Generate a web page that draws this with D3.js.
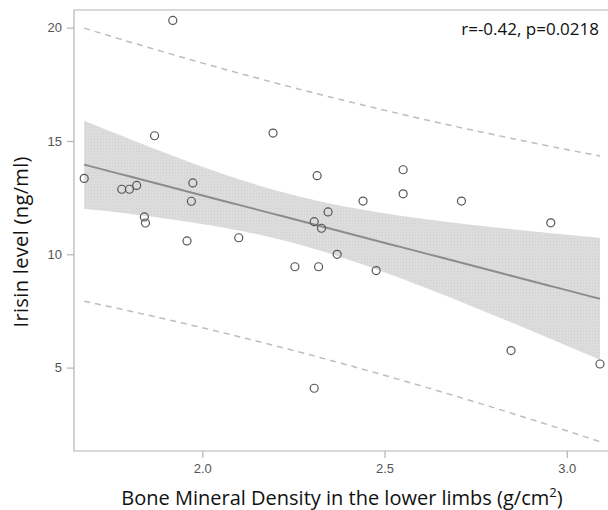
<!DOCTYPE html>
<html>
<head>
<meta charset="utf-8">
<script src="https://cdn.jsdelivr.net/npm/d3@7"></script>
<style>
  body { margin: 0; background: #fff; }
  svg { display: block; }
</style>
</head>
<body>
<div id="chart"></div>
<script>
// bone mineral density (g/cm2) of each subject
var bmd = [1.676, 1.779, 1.800, 1.820, 1.841, 1.844, 1.869, 1.919, 1.958, 1.974,
  1.970, 2.100, 2.194, 2.254, 2.307, 2.315, 2.319, 2.327, 2.345, 2.370,
  2.307, 2.441, 2.477, 2.551, 2.551, 2.711, 2.847, 2.956, 3.091];
// irisin level (ng/ml), same order
var irisin = [13.35, 12.87, 12.87, 13.04, 11.65, 11.38, 15.23, 20.32, 10.59, 13.15,
  12.34, 10.73, 15.35, 9.45, 11.44, 13.47, 9.45, 11.15, 11.87, 10.0,
  4.09, 12.35, 9.28, 13.73, 12.67, 12.35, 5.75, 11.39, 5.16];

var xTicks = [2.0, 2.5, 3.0];
var yTicks = [5, 10, 15, 20];
var statText = "r=-0.42, p=0.0218";
var xTitle = "Bone Mineral Density in the lower limbs (g/cm";
var yTitle = "Irisin level (ng/ml)";

var W = 608, H = 510;
var m = { left: 74, top: 10, right: 608, bottom: 451 };

var svg = d3.select("#chart").append("svg")
  .attr("width", W)
  .attr("height", H);

var x = d3.scaleLinear().domain([1.648, 3.113]).range([m.left, m.right]);
var y = d3.scaleLinear().domain([1.32, 20.78]).range([m.bottom, m.top]);

// least squares fit, 95% mean band and prediction band
var n = bmd.length;
var mx = d3.mean(bmd), my = d3.mean(irisin);
var sxx = d3.sum(bmd, function (d) { return (d - mx) * (d - mx) });
var sxy = d3.sum(bmd, function (d, i) { return (d - mx) * (irisin[i] - my) });
var slope = sxy / sxx;
var icpt = my - slope * mx;
var sse = d3.sum(bmd, function (d, i) { var e = irisin[i] - (icpt + slope * d); return e * e });
var s = Math.sqrt(sse / (n - 2));
var t = 2.052; // t(0.975, 27)

var xs = d3.range(0, 61).map(function (i) {
  return d3.min(bmd) + i * (d3.max(bmd) - d3.min(bmd)) / 60;
});
var band = xs.map(function (v) {
  var fit = icpt + slope * v;
  var se = s * Math.sqrt(1 / n + (v - mx) * (v - mx) / sxx);
  var sp = s * Math.sqrt(1 + 1 / n + (v - mx) * (v - mx) / sxx);
  return { x: v, fit: fit, lo: fit - t * se, hi: fit + t * se, plo: fit - t * sp, phi: fit + t * sp };
});

// stippled grey fill like the original band
var defs = svg.append("defs");
var pat = defs.append("pattern")
  .attr("id", "stipple")
  .attr("width", 3)
  .attr("height", 3)
  .attr("patternUnits", "userSpaceOnUse");
pat.append("rect").attr("width", 3).attr("height", 3).attr("fill", "#dcdcdc");
pat.append("rect").attr("x", 1).attr("y", 1).attr("width", 1).attr("height", 1).attr("fill", "#d0d0d0");

svg.append("path")
  .datum(band)
  .attr("d", d3.area()
    .x(function (d) { return x(d.x) })
    .y0(function (d) { return y(d.lo) })
    .y1(function (d) { return y(d.hi) }))
  .attr("fill", "url(#stipple)");

svg.append("path")
  .datum(band)
  .attr("d", d3.line()
    .x(function (d) { return x(d.x) })
    .y(function (d) { return y(d.fit) }))
  .attr("fill", "none")
  .attr("stroke", "#8c8c8c")
  .attr("stroke-width", 2);

["plo", "phi"].forEach(function (k) {
  svg.append("path")
    .datum(band)
    .attr("d", d3.line()
      .x(function (d) { return x(d.x) })
      .y(function (d) { return y(d[k]) }))
    .attr("fill", "none")
    .attr("stroke", "#bdbdbd")
    .attr("stroke-width", 1.5)
    .attr("stroke-dasharray", "6,5");
});

// frame
svg.append("path")
  .attr("d", "M" + m.right + "," + m.top + "H" + m.left + "V" + m.bottom + "H" + m.right)
  .attr("fill", "none")
  .attr("stroke", "#b4b4b4")
  .attr("stroke-width", 1.2);

// axes
var gx = svg.append("g")
  .attr("transform", "translate(0," + m.bottom + ")")
  .call(d3.axisBottom(x).tickValues(xTicks).tickFormat(d3.format(".1f")).tickSize(7).tickPadding(6));
var gy = svg.append("g")
  .attr("transform", "translate(" + m.left + ",0)")
  .call(d3.axisLeft(y).tickValues(yTicks).tickSize(7).tickPadding(5));
[gx, gy].forEach(function (g) {
  g.select(".domain").remove();
  g.selectAll(".tick line").attr("stroke", "#b4b4b4").attr("stroke-width", 1.2);
  g.selectAll(".tick text")
    .attr("fill", "#555")
    .style("font-family", "'Liberation Sans', Arial, sans-serif")
    .style("font-size", "13px");
});

// points
svg.selectAll("circle.pt")
  .data(bmd)
  .enter()
  .append("circle")
  .attr("class", "pt")
  .attr("cx", function (d) { return x(d) })
  .attr("cy", function (d, i) { return y(irisin[i]) })
  .attr("r", 4)
  .attr("fill", "none")
  .attr("stroke", "#555")
  .attr("stroke-width", 1.2);

// titles
var xt = svg.append("text")
  .attr("x", 342)
  .attr("y", 505)
  .attr("text-anchor", "middle")
  .attr("fill", "#111")
  .style("font-family", "'Open Sans', sans-serif")
  .style("font-size", "20px");
xt.append("tspan").text(xTitle);
xt.append("tspan").attr("dy", -8).style("font-size", "13px").text("2");
xt.append("tspan").attr("dy", 8).text(")");

svg.append("text")
  .attr("transform", "translate(27.5,242) rotate(-90)")
  .attr("text-anchor", "middle")
  .attr("fill", "#111")
  .attr("textLength", 171)
  .attr("lengthAdjust", "spacing")
  .style("font-family", "'Open Sans', sans-serif")
  .style("font-size", "20px")
  .text(yTitle);

svg.append("text")
  .attr("x", 599)
  .attr("y", 35)
  .attr("text-anchor", "end")
  .attr("fill", "#111")
  .style("font-family", "'Open Sans', sans-serif")
  .style("font-size", "17px")
  .text(statText);
</script>
</body>
</html>
